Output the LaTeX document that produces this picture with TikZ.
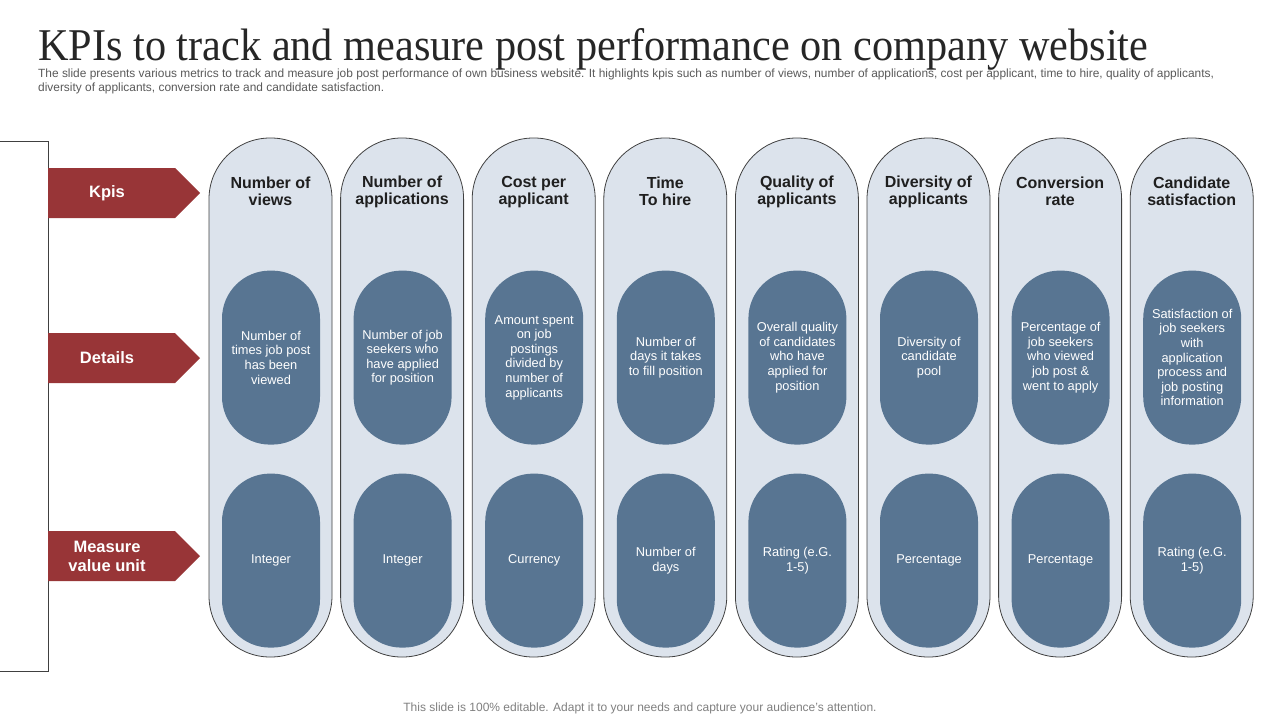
\documentclass[tikz,border=0pt]{standalone}
\usepackage{fontspec}
\setmainfont{Liberation Sans}
\newfontfamily\titlefont{Liberation Serif}
\usetikzlibrary{calc,positioning}
\definecolor{kpired}{HTML}{983537}
\definecolor{pillfill}{HTML}{DCE3EC}
\definecolor{pillline}{HTML}{404040}
\definecolor{innerblue}{HTML}{587592}
\definecolor{bodygray}{HTML}{595959}
\definecolor{footgray}{HTML}{7F7F7F}
\begin{document}
\begin{tikzpicture}[x=1pt,y=-1pt,
  pill/.style={draw=pillline,line width=0.8pt,fill=pillfill,minimum width=123pt,minimum height=519pt,rounded corners=61pt,inner sep=0pt},
  core/.style={fill=innerblue,minimum width=98pt,minimum height=174pt,rounded corners=48pt,text=white,align=center,inner sep=0pt,font=\fontsize{12.8}{14.6}\selectfont},
  head/.style={align=center,text=black!88,font=\bfseries\fontsize{16}{17}\selectfont},
  tag/.style={align=center,text=white,font=\bfseries\fontsize{16.5}{19}\selectfont}]
\useasboundingbox (0,0) rectangle (1280,720);
% title and notes
\node [anchor=base west,inner sep=0pt,text=black!85] (Title) at (38,60) {\resizebox{1110pt}{32pt}{\titlefont KPIs to track and measure post performance on company website}};
\node [anchor=north west,inner sep=0pt,align=left,text=bodygray,font=\fontsize{11.9}{14}\selectfont] (Intro) at (38,68.5) {The slide presents various metrics to track and measure job post performance of own business website. It highlights kpis such as number of views, number of applications, cost per applicant, time to hire, quality of applicants,\\diversity of applicants, conversion rate and candidate satisfaction.};
\node [text=footgray,font=\fontsize{12}{14}\selectfont] (Footer) at (640,708) {This slide is 100\% editable. Adapt it to your needs and capture your audience's attention.};
% left bracket and row tags
\coordinate (BracketTop) at (0,141);
\coordinate (BracketBottom) at (0,671);
\draw [pillline,line width=0.8pt] (BracketTop) -- (48,141) -- (48,671) -- (BracketBottom);
\fill [kpired] (48,168) -- (175,168) -- (200,193) -- (175,218) -- (48,218) -- cycle;
\node [tag] (TagKpis) at (107,193) {Kpis};
\fill [kpired] (48,333) -- (175,333) -- (200,358) -- (175,383) -- (48,383) -- cycle;
\node [tag] (TagDetails) at (107,358) {Details};
\fill [kpired] (48,531) -- (175,531) -- (200,556) -- (175,581) -- (48,581) -- cycle;
\node [tag] (TagUnit) at (107,556) {Measure\\value unit};
% columns
\node [pill] (ColViews) at (270.5,397.5) {};
\node [pill,right=7.8pt of ColViews] (ColApplications) {};
\node [pill,right=7.8pt of ColApplications] (ColCost) {};
\node [pill,right=7.8pt of ColCost] (ColTime) {};
\node [pill,right=7.8pt of ColTime] (ColQuality) {};
\node [pill,right=7.8pt of ColQuality] (ColDiversity) {};
\node [pill,right=7.8pt of ColDiversity] (ColConversion) {};
\node [pill,right=7.8pt of ColConversion] (ColSatisfaction) {};
% kpi names
\node [head] (HeadViews) at ($(ColViews.north)+(0,54)$) {Number of\\views};
\node [head] (HeadApplications) at ($(ColApplications.north)+(0,54)$) {Number of\\applications};
\node [head] (HeadCost) at ($(ColCost.north)+(0,54)$) {Cost per\\applicant};
\node [head] (HeadTime) at ($(ColTime.north)+(0,54)$) {Time\\To hire};
\node [head] (HeadQuality) at ($(ColQuality.north)+(0,54)$) {Quality of\\applicants};
\node [head] (HeadDiversity) at ($(ColDiversity.north)+(0,54)$) {Diversity of\\applicants};
\node [head] (HeadConversion) at ($(ColConversion.north)+(0,54)$) {Conversion\\rate};
\node [head] (HeadSatisfaction) at ($(ColSatisfaction.north)+(0,54)$) {Candidate\\satisfaction};
% details
\node [core] (DetailViews) at ($(ColViews.north)+(0.5,220)$) {Number of\\times job post\\has been\\viewed};
\node [core] (DetailApplications) at ($(ColApplications.north)+(0.5,220)$) {Number of job\\seekers who\\have applied\\for position};
\node [core] (DetailCost) at ($(ColCost.north)+(0.5,220)$) {Amount spent\\on job\\postings\\divided by\\number of\\applicants};
\node [core] (DetailTime) at ($(ColTime.north)+(0.5,220)$) {Number of\\days it takes\\to fill position};
\node [core] (DetailQuality) at ($(ColQuality.north)+(0.5,220)$) {Overall quality\\of candidates\\who have\\applied for\\position};
\node [core] (DetailDiversity) at ($(ColDiversity.north)+(0.5,220)$) {Diversity of\\candidate\\pool};
\node [core] (DetailConversion) at ($(ColConversion.north)+(0.5,220)$) {Percentage of\\job seekers\\who viewed\\job post \&\\went to apply};
\node [core] (DetailSatisfaction) at ($(ColSatisfaction.north)+(0.5,220)$) {Satisfaction of\\job seekers\\with\\application\\process and\\job posting\\information};
% measure units
\node [core] (UnitViews) at ($(ColViews.north)+(0.5,423)$) {Integer};
\node [core] (UnitApplications) at ($(ColApplications.north)+(0.5,423)$) {Integer};
\node [core] (UnitCost) at ($(ColCost.north)+(0.5,423)$) {Currency};
\node [core] (UnitTime) at ($(ColTime.north)+(0.5,423)$) {Number of\\days};
\node [core] (UnitQuality) at ($(ColQuality.north)+(0.5,423)$) {Rating (e.G.\\1-5)};
\node [core] (UnitDiversity) at ($(ColDiversity.north)+(0.5,423)$) {Percentage};
\node [core] (UnitConversion) at ($(ColConversion.north)+(0.5,423)$) {Percentage};
\node [core] (UnitSatisfaction) at ($(ColSatisfaction.north)+(0.5,423)$) {Rating (e.G.\\1-5)};
\end{tikzpicture}
\end{document}
